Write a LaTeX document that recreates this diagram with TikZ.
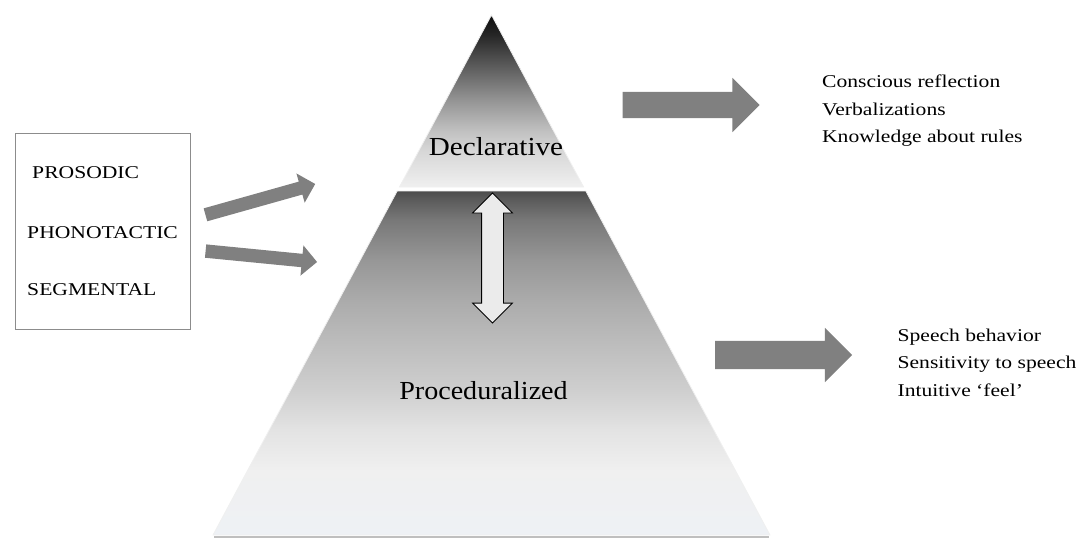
\documentclass[tikz,border=0pt]{standalone}
\usepackage{fontspec}
\setmainfont{Liberation Serif}
\usetikzlibrary{shapes.arrows,positioning}

\definecolor{basewhite}{RGB}{238,241,245}
\pgfdeclareverticalshading{declshade}{100bp}{color(0bp)=(black!6); color(25bp)=(black!6); color(35.8bp)=(black!16); color(41.6bp)=(black!25); color(50.3bp)=(black!42); color(61.9bp)=(black!68); color(69.2bp)=(black!85); color(75bp)=(black!95); color(100bp)=(black!95)}
\pgfdeclareverticalshading{procshade}{100bp}{color(0bp)=(basewhite); color(25bp)=(basewhite); color(34.4bp)=(black!6); color(40.3bp)=(black!11); color(46.1bp)=(black!19); color(51.9bp)=(black!25); color(59.2bp)=(black!33); color(65bp)=(black!41); color(70.8bp)=(black!53); color(73.7bp)=(black!64); color(75bp)=(black!70); color(100bp)=(black!70)}

\begin{document}
\begin{tikzpicture}[x=1pt, y=-1pt]
        \tikzstyle{every node} = [inner sep=0pt]
        \tikzstyle{fatarrow} = [single arrow, fill=black!50, single arrow head indent=0pt, single arrow tip angle=90, inner xsep=0pt]
        \tikzstyle{boxtext} = [anchor=west, font=\fontsize{18}{20}\selectfont, xscale=1.2]
        \tikzstyle{outtext} = [align=left, font=\fontsize{18}{27.5}\selectfont, xscale=1.2]
        \tikzstyle{level} = [font=\fontsize{26}{30}\selectfont]
        \useasboundingbox (0,0) rectangle (1086,555);

        % pyramid
        \draw[black!25, line width=2.5pt] (214,537) -- (769,537);
        \shade[shading=declshade, draw=black!6, line width=0.8pt] (491.5,15) -- (583.6,187) -- (399.4,187) -- cycle;
        \shade[shading=procshade, draw=black!6, line width=0.8pt] (397.2,191) -- (585.8,191) -- (770,535) -- (213,535) -- cycle;

        \node[level, xscale=1.12](decl) at (496,146.5){Declarative};
        \node[level, xscale=1.08](proc) at (483.5,390.5){Proceduralized};
        \node[double arrow, draw=black, fill=black!8, line width=0.8pt, rotate=90, minimum height=130pt, inner ysep=10.5pt, double arrow head extend=9pt, double arrow head indent=0pt](link) at (492.5,258){};

        % input box
        \node[draw=black!45, line width=0.9pt, minimum width=175pt, minimum height=196pt](levels) at (102.5,231){};
        \node[boxtext](pros) at (32,172.5){PROSODIC};
        \node[boxtext](phon) at (27,233){PHONOTACTIC};
        \node[boxtext](segm) at (27,290){SEGMENTAL};
        \node[fatarrow, rotate=15.7, minimum height=114pt, inner ysep=6.5pt, single arrow head extend=8.5pt](inup) at (257.1,200.3){};
        \node[fatarrow, rotate=-5.6, minimum height=112pt, inner ysep=6.5pt, single arrow head extend=8.5pt](indown) at (258,256.2){};

        % outputs
        \node[fatarrow, minimum height=137pt, inner ysep=13pt, single arrow head extend=14pt](declout) at (684.5,105){};
        \node[fatarrow, minimum height=137pt, inner ysep=14pt, single arrow head extend=13pt](procout) at (776.5,355){};
        \node[outtext, right=62pt of declout, yshift=-5.8pt](declres){Conscious reflection\\Verbalizations\\Knowledge about rules};
        \node[outtext, right=45pt of procout, yshift=-7.4pt](procres){Speech behavior\\Sensitivity to speech\\Intuitive ‘feel’};
    \end{tikzpicture}
\end{document}
